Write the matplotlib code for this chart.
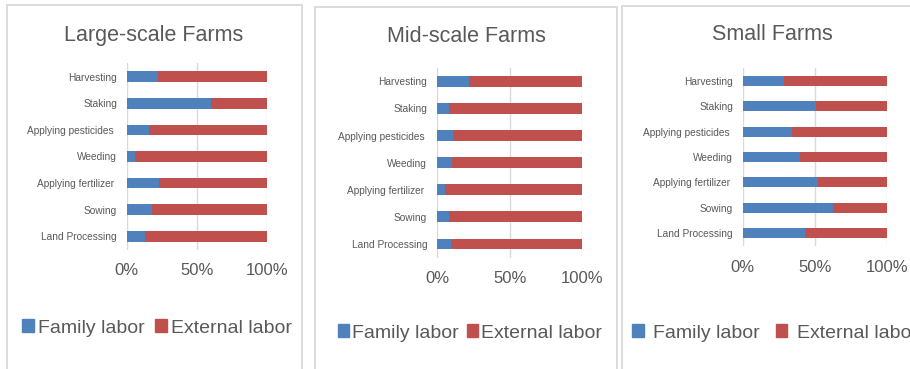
import matplotlib.pyplot as plt
from matplotlib.patches import Rectangle, Patch

plt.rcParams['font.family'] = ['Liberation Sans', 'DejaVu Sans']

tasks = ["Land Processing", "Sowing", "Applying fertilizer ", "Weeding",
         "Applying pesticides ", "Staking", "Harvesting"]

# share of family labor (%) per task, bottom to top
family_large = [13, 18, 23, 6, 16, 60, 22]
family_mid = [9.5, 8, 5.5, 10.5, 11, 8.5, 22]
family_small = [43, 63, 52, 40, 34, 51, 29]

titles = ["Large-scale Farms", "Mid-scale Farms", "Small Farms"]
ticks = [0, 50, 100]
tick_labels = ["0%", "50%", "100%"]

BLUE = "#4f81bd"
RED = "#c0504d"
TXT = "#595959"
GRID = "#d9d9d9"

W, H = 910, 369
fig = plt.figure(figsize=(W / 100, H / 100), dpi=100)


def px_rect(left, right, top, bottom):
    return [left / W, 1 - bottom / H, (right - left) / W, (bottom - top) / H]


# panel frames (left, top, right) in pixels
frames = [(7, 5, 302), (315, 7, 617), (622, 6, 915)]
for x0, y0, x1 in frames:
    fig.patches.append(Rectangle((x0 / W, -0.05), (x1 - x0) / W, 1 - y0 / H + 0.05,
                                 transform=fig.transFigure, fill=False,
                                 edgecolor=GRID, linewidth=1.3))

axes_px = [(126.7, 266.7, 63.4, 249.6),
           (437, 582.3, 67.8, 257.5),
           (742.7, 886.7, 68.3, 245.7)]
title_pos = [(154, 35), (466.7, 37), (772.5, 35)]
legend_pos = [(157, 328), (470, 333), (775, 333)]
legend_style = [dict(handletextpad=0.2, columnspacing=0.55),
                dict(handletextpad=0.15, columnspacing=0.4),
                dict(handletextpad=0.5, columnspacing=0.8)]

for i, fam in enumerate([family_large, family_mid, family_small]):
    ext = [100 - v for v in fam]
    ax = fig.add_axes(px_rect(*axes_px[i]))
    ax.barh(tasks, fam, height=0.4, color=BLUE, zorder=3)
    ax.barh(tasks, ext, left=fam, height=0.4, color=RED, zorder=3)
    ax.set_xlim(0, 100)
    ax.set_ylim(-0.5, 6.5)
    ax.set_xticks(ticks)
    ax.set_xticklabels(tick_labels, fontsize=12, color=TXT)
    ax.tick_params(axis='x', length=0, pad=10)
    ax.tick_params(axis='y', length=0, pad=7, labelsize=7.3, labelcolor=TXT)
    ax.grid(axis='x', color=GRID, linewidth=1, zorder=0)
    for s in ax.spines.values():
        s.set_visible(False)

    tx, ty = title_pos[i]
    fig.text(tx / W, 1 - ty / H, titles[i], ha='center', va='center',
             fontsize=15.5, color=TXT)

    handles = [Patch(color=BLUE, label="Family labor"),
               Patch(color=RED, label="External labor")]
    lx, ly = legend_pos[i]
    leg = ax.legend(handles=handles, loc='center', ncol=2,
                    bbox_to_anchor=(lx / W, 1 - ly / H),
                    bbox_transform=fig.transFigure, frameon=False,
                    fontsize=14, handlelength=0.6, handleheight=0.6,
                    borderaxespad=0, borderpad=0, **legend_style[i])
    for t in leg.get_texts():
        t.set_color(TXT)

fig.savefig("out.png", dpi=100)
